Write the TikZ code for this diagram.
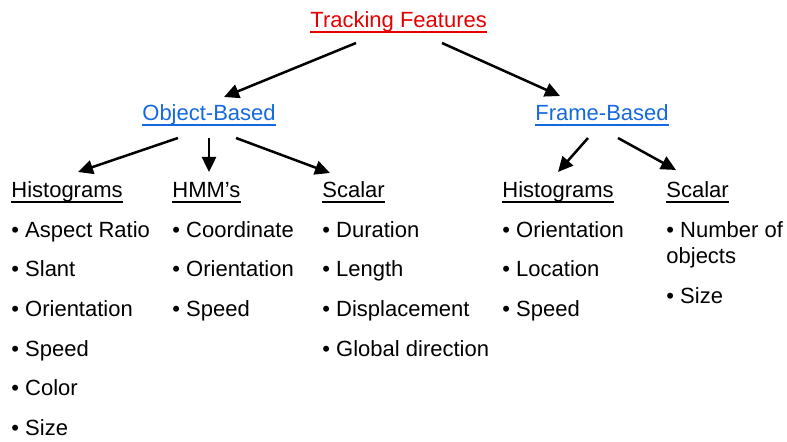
\documentclass[tikz,border=0pt]{standalone}
\usepackage{fontspec}
\setmainfont{Liberation Sans}
\usetikzlibrary{arrows.meta}
\definecolor{titlered}{RGB}{230,0,0}
\definecolor{linkblue}{RGB}{20,105,225}
\tikzset{
  txt/.style={anchor=base west,inner sep=0pt,font=\fontsize{11pt}{13pt}\selectfont},
  ul/.style={txt,text=#1,append after command={([yshift=-2pt]\tikzlastnode.base west) edge[draw=#1,line width=0.8pt] ([yshift=-2pt]\tikzlastnode.base east)}},
  arr/.style={-{Triangle[length=7.5pt,width=7pt]},line width=1.25pt}
}
\begin{document}
\begin{tikzpicture}[x=0.5pt,y=-0.5pt]
\useasboundingbox (0,0) rectangle (787,442);
% top level
\node[ul=titlered] (track) at (310,28) {Tracking Features};
\node[ul=linkblue] (objb) at (142,121) {Object-Based};
\node[ul=linkblue] (frmb) at (535,121) {Frame-Based};
\draw[arr] ([shift={(46,15)}]track.base west) -- ([shift={(82,-24)}]objb.base west);
\draw[arr] ([shift={(132,15)}]track.base west) -- ([shift={(25,-25)}]frmb.base west);
% column heads
\node[ul=black] (ohist) at (11,198) {Histograms};
\node[ul=black] (ohmm) at (172,198) {HMM’s};
\node[ul=black] (oscal) at (322,198) {Scalar};
\node[ul=black] (fhist) at (502,198) {Histograms};
\node[ul=black] (fscal) at (666,198) {Scalar};
\draw[arr] ([shift={(36,17)}]objb.base west) -- ([shift={(67,-26)}]ohist.base west);
\draw[arr] ([shift={(67,17)}]objb.base west) -- ([shift={(37,-26)}]ohmm.base west);
\draw[arr] ([shift={(94,17)}]objb.base west) -- ([shift={(8,-25)}]oscal.base west);
\draw[arr] ([shift={(53,17)}]frmb.base west) -- ([shift={(56,-26)}]fhist.base west);
\draw[arr] ([shift={(83,17)}]frmb.base west) -- ([shift={(10,-28)}]fscal.base west);
% object based lists
\node[txt] (oh1) at (11,238) {• Aspect Ratio};
\node[txt] (oh2) at (11,277) {• Slant};
\node[txt] (oh3) at (11,317) {• Orientation};
\node[txt] (oh4) at (11,357) {• Speed};
\node[txt] (oh5) at (11,396) {• Color};
\node[txt] (oh6) at (11,436) {• Size};
\node[txt] (om1) at (172,238) {• Coordinate};
\node[txt] (om2) at (172,277) {• Orientation};
\node[txt] (om3) at (172,317) {• Speed};
\node[txt] (os1) at (322,238) {• Duration};
\node[txt] (os2) at (322,277) {• Length};
\node[txt] (os3) at (322,317) {• Displacement};
\node[txt] (os4) at (322,357) {• Global direction};
% frame based lists
\node[txt] (fh1) at (502,238) {• Orientation};
\node[txt] (fh2) at (502,277) {• Location};
\node[txt] (fh3) at (502,317) {• Speed};
\node[txt] (fs1) at (666,238) {• Number of};
\node[txt] (fs1b) at (666,264) {objects};
\node[txt] (fs2) at (666,304) {• Size};
\end{tikzpicture}
\end{document}
